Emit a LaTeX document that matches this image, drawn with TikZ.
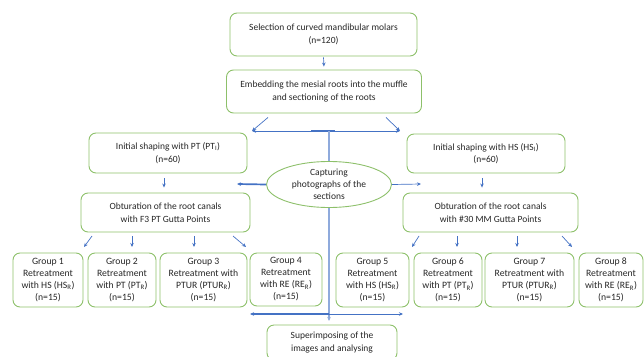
\documentclass[tikz,border=0pt]{standalone}
\usepackage{fontspec}
\setmainfont{Carlito}
\usetikzlibrary{arrows.meta,shapes.geometric,calc}
\definecolor{boxgreen}{HTML}{8DC06A}
\definecolor{arrblue}{HTML}{4472C4}
\definecolor{lineblue}{HTML}{8FAADC}

\begin{document}
\begin{tikzpicture}[x=1pt,y=-1pt,
  box/.style={draw=boxgreen,line width=0.9pt,rounded corners=7pt,align=center,
    inner sep=0pt,font=\fontsize{9.5}{12.5}\selectfont,text=black!85},
  grp/.style={box,minimum height=54pt,font=\fontsize{9.7}{12}\selectfont},
  arr/.style={draw=arrblue,line width=0.7pt,->},
  thickarr/.style={draw=arrblue,line width=1.7pt,->},
  >={Stealth[length=4pt,width=3.5pt]}]
  \useasboundingbox (0,0) rectangle (644,356);

	% top of the chart
	\node[box,minimum width=187pt,minimum height=43pt] (select) at (323.5,34.5)
	  {Selection of curved mandibular molars\\(n=120)};
	\node[box,minimum width=195pt,minimum height=43pt] (embed) at (324,91.5)
	  {Embedding the mesial roots into the muffle\\and sectioning of the roots};
	\draw[arr,shorten <=1pt,shorten >=3pt] (select.south) -- (embed.north);

	% split into the two shaping groups
	\coordinate (hl) at (252,131);
	\coordinate (hr) at (400,131);
	\coordinate (hub) at (329,131);
	\coordinate (vtop) at (329,161);
	\coordinate (vbot) at (329,208);
	\coordinate (vend) at (329,321);
	\draw[arr] ($(embed.south)+(-56,4)$) -- (hl);
	\draw[arr] ($(embed.south)+(62,4)$) -- (hr);
	\draw[arr,<->] (hl) -- (hr);
	\draw[arrblue,line width=2pt] ($(hub)+(-18,0)$) -- ($(hub)+(6,0)$);
	\draw[lineblue,line width=1.2pt] (hub) -- (vtop);
	\draw[lineblue,line width=1.2pt,->] (vbot) -- (vend);

	\node[box,minimum width=130pt,minimum height=35pt] (superimp) at (332,342.5)
	  {Superimposing of the\\images and analysing};

	\node[box,minimum width=158pt,minimum height=40pt] (initPT) at (168,153)
	  {Initial shaping with PT (PT\textsubscript{I})\\(n=60)};
	\node[box,minimum width=158pt,minimum height=39pt] (initHS) at (486,153.5)
	  {Initial shaping with HS (HS\textsubscript{I})\\(n=60)};

	\node[box,ellipse,fill=white,rounded corners=0pt,minimum width=125pt,minimum height=46pt,
	  inner sep=-4pt,font=\fontsize{9.5}{12}\selectfont] (capture) at (329,184.5)
	  {Capturing\\photographs of the\\sections};
	\coordinate (cl) at (237,184);
	\coordinate (cr) at (421,184);
	\draw[thickarr] (capture.west) -- (cl);
	\draw[arr] (capture.east) -- (cr);

	\node[box,minimum width=169pt,minimum height=39pt] (obtF3) at (165.5,212.5)
	  {Obturation of the root canals\\with F3 PT Gutta Points};
	\node[box,minimum width=175pt,minimum height=39pt] (obt30) at (490.5,212.5)
	  {Obturation of the root canals\\with \#30 MM Gutta Points};
	\draw[arr,shorten <=5pt,shorten >=5pt] ($(initPT.south)+(-4,0)$) coordinate (p) -- (p |- obtF3.north);
	\draw[arr,shorten <=5pt,shorten >=5pt] ($(initHS.south)+(-4,0)$) coordinate (q) -- (q |- obt30.north);

	% retreatment groups
	\node[grp,minimum width=70pt] (g1) at (48,280)
	  {Group 1\\Retreatment\\with HS (HS\textsubscript{R})\\(n=15)};
	\node[grp,minimum width=68pt] (g2) at (122,280)
	  {Group 2\\Retreatment\\with PT (PT\textsubscript{R})\\(n=15)};
	\node[grp,minimum width=87pt] (g3) at (203.5,280)
	  {Group 3\\Retreatment with\\PTUR (PTUR\textsubscript{R})\\(n=15)};
	\node[grp,minimum width=72pt,minimum height=53pt] (g4) at (286,279.5)
	  {Group 4\\Retreatment\\with RE (RE\textsubscript{R})\\(n=15)};
	\node[grp,minimum width=73pt] (g5) at (372.5,280)
	  {Group 5\\Retreatment\\with HS (HS\textsubscript{R})\\(n=15)};
	\node[grp,minimum width=68pt] (g6) at (448,280)
	  {Group 6\\Retreatment\\with PT (PT\textsubscript{R})\\(n=15)};
	\node[grp,minimum width=89pt] (g7) at (529.5,280)
	  {Group 7\\Retreatment with\\PTUR (PTUR\textsubscript{R})\\(n=15)};
	\node[grp,minimum width=64pt] (g8) at (611,280)
	  {Group 8\\Retreatment\\with RE (RE\textsubscript{R})\\(n=15)};

	\foreach \i/\xs/\xe in {1/92/84,2/132/132,3/194/194,4/233/246,
	                        5/419/412,6/457/457,7/517/517,8/562/572} {
	  \coordinate (s\i) at (\xs,236);
	  \coordinate (e\i) at (\xe,247);
	  \draw[arr] (s\i) -- (e\i);
	}

	% lower cross line
	\coordinate (bhub) at (329,314);
	\coordinate (bl) at (250,314);
	\coordinate (br) at (403,314);
	\draw[thickarr] (bhub) -- (bl);
	\draw[arr] (bhub) -- (br);
\end{tikzpicture}
\end{document}
